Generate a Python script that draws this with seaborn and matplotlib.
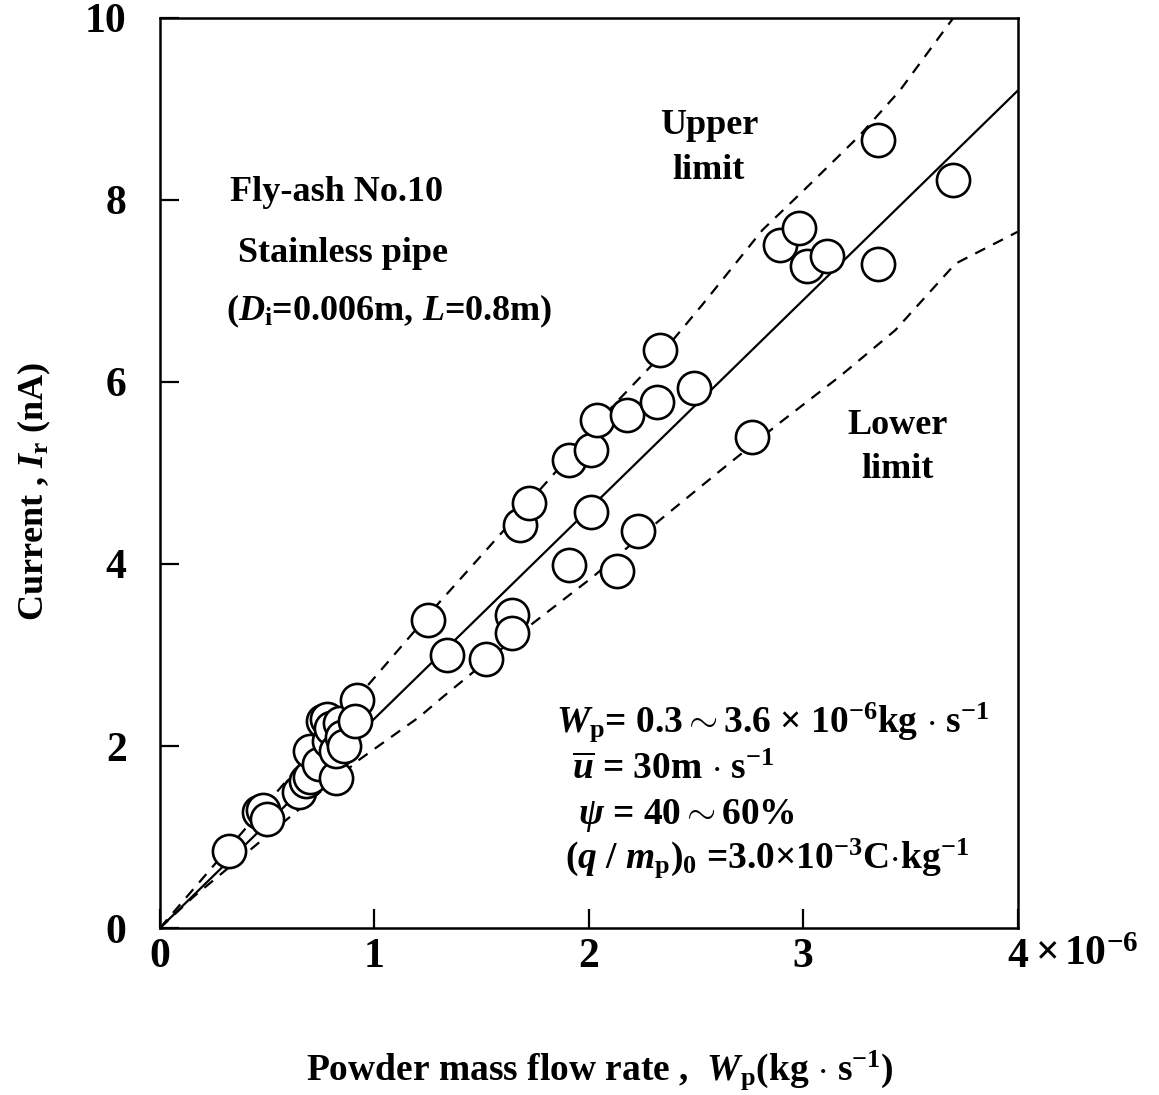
import matplotlib
matplotlib.use("Agg")
import matplotlib.pyplot as plt
import seaborn as sns
import pandas as pd

# measured points (Wp in 1e-6 kg/s, current in nA)
wp = [0.32, 0.46, 0.48, 0.50, 0.65, 0.68, 0.70, 0.70, 0.74, 0.76,
      0.78, 0.79, 0.80, 0.82, 0.82, 0.84, 0.85, 0.86, 0.92, 0.91,
      1.25, 1.34, 1.52, 1.64, 1.64, 1.68, 1.72, 1.91, 1.91, 2.01,
      2.01, 2.04, 2.13, 2.18, 2.23, 2.32, 2.33, 2.49, 2.76, 2.89,
      2.98, 3.02, 3.11, 3.35, 3.35, 3.70]
current = [0.85, 1.27, 1.30, 1.20, 1.50, 1.62, 1.66, 1.95, 1.80, 2.28,
           2.30, 2.05, 2.20, 1.65, 1.95, 2.25, 2.10, 2.00, 2.50, 2.27,
           3.38, 3.00, 2.96, 3.44, 3.24, 4.43, 4.67, 3.99, 5.14, 5.25,
           4.57, 5.58, 3.92, 5.64, 4.36, 5.78, 6.35, 5.93, 5.40, 7.51,
           7.69, 7.27, 7.38, 8.66, 7.30, 8.22]

# fitted line
fit_x = [0.0, 4.0]
fit_y = [0.0, 9.2]

# upper limit
up_x = [0.0, 0.5, 1.0, 1.3, 1.57, 1.83, 2.11, 2.3, 2.53, 2.81, 3.0, 3.26, 3.45, 3.70]
up_y = [0.0, 1.37, 2.75, 3.57, 4.28, 4.97, 5.73, 6.2, 6.85, 7.67, 8.1, 8.7, 9.2, 10.0]

# lower limit
lo_x = [0.0, 0.155, 0.606, 0.93, 1.21, 1.32, 1.74, 2.02, 2.33, 2.60, 2.89, 3.17, 3.43, 3.71, 4.0]
lo_y = [0.0, 0.34, 1.22, 1.85, 2.32, 2.54, 3.35, 3.86, 4.48, 5.0, 5.55, 6.06, 6.57, 7.30, 7.65]

sns.set_style("ticks")
plt.rcParams['font.family'] = ['Liberation Serif', 'DejaVu Serif']
plt.rcParams['font.weight'] = 'bold'
plt.rcParams['text.color'] = 'black'
plt.rcParams['axes.edgecolor'] = 'black'
plt.rcParams['xtick.color'] = 'black'
plt.rcParams['ytick.color'] = 'black'
plt.rcParams['mathtext.fontset'] = 'custom'
plt.rcParams['mathtext.rm'] = 'Liberation Serif:bold'
plt.rcParams['mathtext.it'] = 'Liberation Serif:italic:bold'
plt.rcParams['mathtext.bf'] = 'Liberation Serif:bold'

fig = plt.figure(figsize=(11.59, 10.95), dpi=100)
ax = fig.add_axes([0.138, 0.1525, 0.740, 0.8311])

df = pd.DataFrame({"Wp": wp, "I": current})
sns.lineplot(x=fit_x, y=fit_y, ax=ax, color="black", lw=1.6, estimator=None, sort=False)
sns.lineplot(x=up_x, y=up_y, ax=ax, color="black", lw=1.6, linestyle=(0, (5, 4)), estimator=None, sort=False)
sns.lineplot(x=lo_x, y=lo_y, ax=ax, color="black", lw=1.6, linestyle=(0, (5, 4)), estimator=None, sort=False)
sns.scatterplot(data=df, x="Wp", y="I", ax=ax, s=570, facecolor="white",
                edgecolor="black", linewidth=1.9, zorder=3)

ax.set_xlim(0, 4)
ax.set_ylim(0, 10)
ax.set_xticks([0, 1, 2, 3, 4])
ax.set_yticks([0, 2, 4, 6, 8, 10])
ax.tick_params(axis='both', direction='in', length=14, width=1.6, labelsize=30)
ax.tick_params(axis='x', pad=7)
ax.tick_params(axis='y', pad=24)
for s in ax.spines.values():
    s.set_linewidth(1.8)
ax.set_xlabel("")
ax.set_ylabel("")

ax.text(4.08, -0.30, r"$\times\,$10$^{-6}$", fontsize=30, fontweight='bold', ha='left', va='center')

# annotations
fs = 26
ax.text(0.825, 8.08, "Fly-ash No.10", fontsize=fs, fontweight='bold', ha='center', va='center')
ax.text(0.853, 7.41, "Stainless pipe", fontsize=fs, fontweight='bold', ha='center', va='center')
ax.text(1.07, 6.78, r"($D_{\rm i}$=0.006m, $L$=0.8m)", fontsize=fs, fontweight='bold', ha='center', va='center')
ax.text(2.56, 8.57, "Upper\nlimit", fontsize=fs, fontweight='bold', ha='center', va='center', linespacing=1.45)
ax.text(3.44, 5.28, "Lower\nlimit", fontsize=fs, fontweight='bold', ha='center', va='center', linespacing=1.45)

ax.text(1.846, 2.26, r"$W_{\rm p}$= 0.3$\sim$3.6 $\times$ 10$^{-6}$kg $\cdot$ s$^{-1}$",
        fontsize=27, fontweight='bold', ha='left', va='center')
ax.text(1.92, 1.74, r"$\overline{u}$ = 30m $\cdot$ s$^{-1}$",
        fontsize=27, fontweight='bold', ha='left', va='center')
ax.text(1.95, 1.24, r"$\psi$ = 40$\sim$60%",
        fontsize=27, fontweight='bold', ha='left', va='center')
ax.text(1.89, 0.77, r"($q$ / $m_{\rm p}$)$_{\rm 0}$ =3.0$\times$10$^{-3}$C$\cdot$kg$^{-1}$",
        fontsize=27, fontweight='bold', ha='left', va='center')

fig.text(0.518, 0.023, r"Powder mass flow rate ,  $W_{\rm p}$(kg $\cdot$ s$^{-1}$)",
         fontsize=27, fontweight='bold', ha='center', va='center')
fig.text(0.030, 0.551, r"Current , $I_{\rm r}$ (nA)", fontsize=26, fontweight='bold',
         ha='center', va='center', rotation=90)

fig.savefig("out.png", dpi=100)
